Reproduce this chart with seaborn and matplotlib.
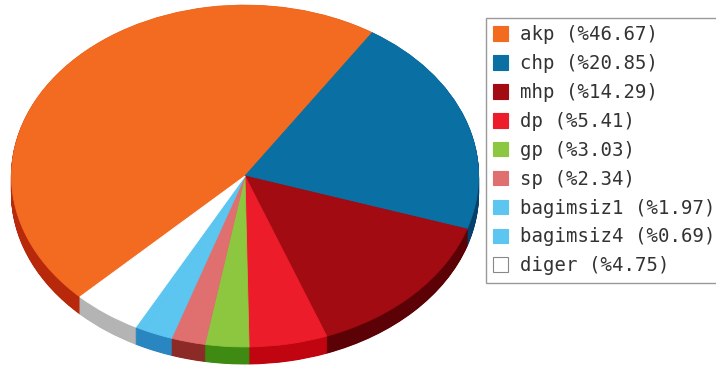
import matplotlib
matplotlib.use("Agg")
import matplotlib.pyplot as plt
import seaborn as sns
from matplotlib.patches import Patch

parties = ["akp", "chp", "mhp", "dp", "gp", "sp", "bagimsiz1", "bagimsiz4", "diger"]
shares = [46.67, 20.85, 14.29, 5.41, 3.03, 2.34, 1.97, 0.69, 4.75]
top_colors = ["#f36b21", "#0a6fa3", "#a20b12", "#ec1c2b", "#8dc63f",
              "#e0706f", "#5cc6f0", "#5cc6f0", "#ffffff"]
side_colors = ["#b8280a", "#07406a", "#5c0206", "#c00510", "#3f8a12",
               "#8c2a28", "#2a86c0", "#2a86c0", "#b4b4b4"]

W, H = 716, 369
ratio = 0.732
cx, cy_px = 245, 176
r = 233.5
depth_px = 17

sns.set_theme(style="white")
fig = plt.figure(figsize=(W / 100, H / 100), dpi=100)
fig.patch.set_facecolor("white")
ax = fig.add_axes([0, 0, 1, 1])
cy = (H - cy_px) / ratio
depth = depth_px / ratio
nl = 30
for k in range(nl, 0, -1):
    off = depth * k / nl
    wedges, _ = ax.pie(shares, colors=side_colors, startangle=225, counterclock=False,
                       radius=r, center=(cx, cy - off), wedgeprops=dict(linewidth=0.8))
    for p in wedges:
        p.set_edgecolor(p.get_facecolor())
wedges, _ = ax.pie(shares, colors=top_colors, startangle=225, counterclock=False,
                   radius=r, center=(cx, cy), wedgeprops=dict(linewidth=0.6))
for p in wedges:
    p.set_edgecolor(p.get_facecolor())
ax.set_xlim(0, W)
ax.set_ylim(0, H / ratio)
ax.set_aspect("auto")
ax.axis("off")

handles = [Patch(facecolor=c, edgecolor=("#888888" if c == "#ffffff" else c), linewidth=0.8)
           for c in top_colors]
labels = [f"{p} (%{v:.2f})" for p, v in zip(parties, shares)]
leg = fig.legend(handles, labels, loc="upper left", bbox_to_anchor=(486 / W, 1 - 18 / H),
                 borderaxespad=0, frameon=True, fancybox=False, framealpha=1,
                 edgecolor="#999999", prop={"family": "DejaVu Sans Mono", "size": 13.7},
                 handlelength=0.8, handleheight=0.8, handletextpad=0.6,
                 labelspacing=0.52, borderpad=0.38)
for t in leg.get_texts():
    t.set_color("#333333")
leg.get_frame().set_linewidth(1.0)

fig.savefig("out.png", dpi=100)
